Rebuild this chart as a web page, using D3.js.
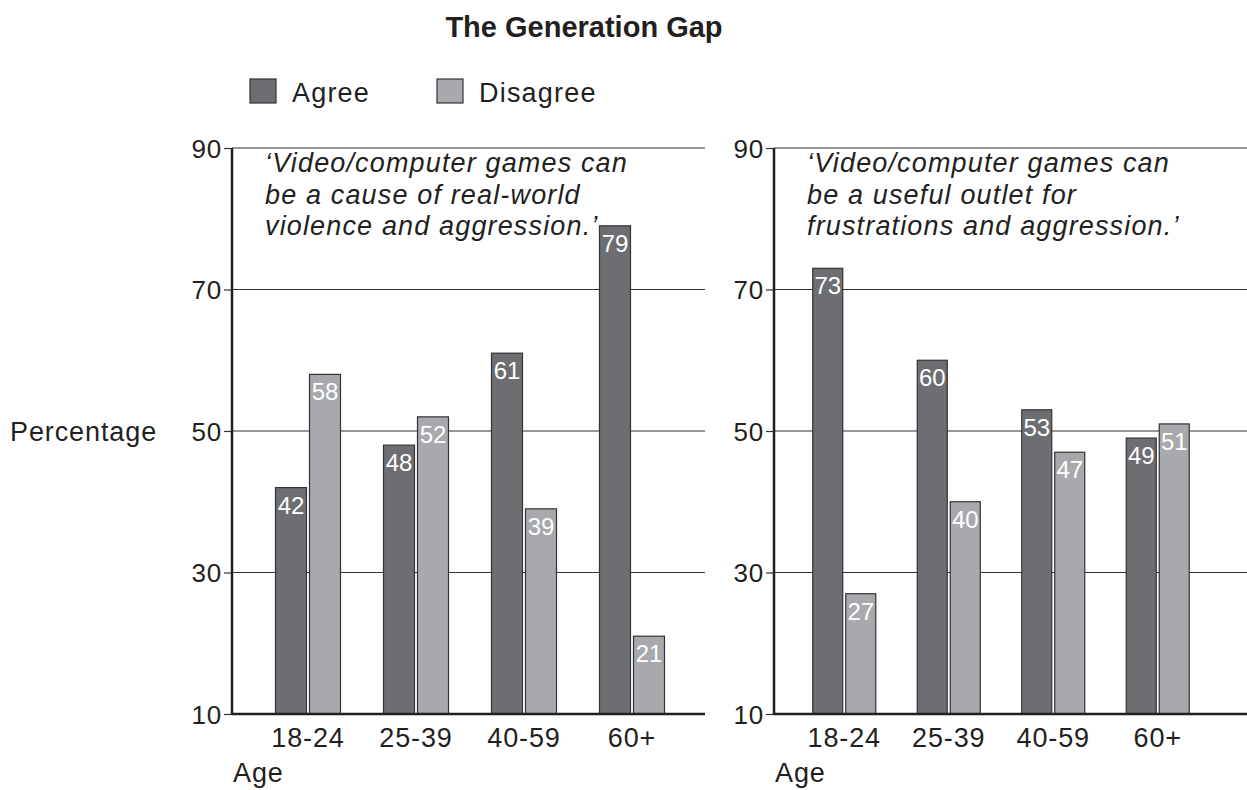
<!DOCTYPE html>
<html><head><meta charset="utf-8">
<script src="https://cdn.jsdelivr.net/npm/d3@7"></script>
<style>body{margin:0;background:#fff;} svg{display:block;font-family:"Liberation Sans",Arial,sans-serif;}</style>
</head><body>
<svg id="c" width="1247" height="790"></svg>
<script>
const categories = ["18-24","25-39","40-59","60+"];
const seriesNames = ["Agree","Disagree"];
const leftAgree = [42,48,61,79];
const leftDisagree = [58,52,39,21];
const rightAgree = [73,60,53,49];
const rightDisagree = [27,40,47,51];
const yTicks = [10,30,50,70,90];
const leftQuote = ["‘Video/computer games can","be a cause of real-world","violence and aggression.’"];
const rightQuote = ["‘Video/computer games can","be a useful outlet for","frustrations and aggression.’"];

const colors = {Agree:"#6d6e71", Disagree:"#a7a9ac"};
const ink = "#231f20";
const svg = d3.select("#c");
const y = d3.scaleLinear().domain([10,90]).range([714,148]);

svg.append("text").attr("x",584).attr("y",37).attr("text-anchor","middle")
  .attr("font-weight","bold").attr("font-size",29).attr("fill",ink).text("The Generation Gap");

// legend
const leg = [{n:"Agree",x:250},{n:"Disagree",x:437}];
leg.forEach(l=>{
  svg.append("rect").attr("x",l.x).attr("y",79).attr("width",26).attr("height",24)
    .attr("fill",colors[l.n]).attr("stroke","#333").attr("stroke-width",1.2);
  svg.append("text").attr("x",l.x+42).attr("y",102).attr("font-size",27).attr("letter-spacing","1.2px").attr("fill",ink).text(l.n);
});

svg.append("text").attr("x",10).attr("y",441).attr("font-size",27).attr("letter-spacing","0.9px").attr("fill",ink).text("Percentage");

function panel(axisX, gridEnd, groupStart, groupEnd, barW, agree, disagree, quote){
  const g = svg.append("g");
  const x0 = d3.scaleBand().domain(categories).range([groupStart, groupEnd]).paddingInner(0).paddingOuter(0);
  // gridlines
  g.selectAll(".grid").data(yTicks.slice(1)).enter().append("line")
    .attr("x1",axisX).attr("x2",gridEnd).attr("y1",d=>y(d)).attr("y2",d=>y(d))
    .attr("stroke","#333").attr("stroke-width",1.2);
  // y axis
  const ax = d3.axisLeft(y).tickValues(yTicks).tickSize(8).tickPadding(2);
  const ag = g.append("g").attr("transform",`translate(${axisX},0)`).call(ax);
  ag.select(".domain").remove();
  ag.selectAll(".tick line").attr("stroke","#333").attr("stroke-width",1.2);
  ag.selectAll(".tick text").attr("font-size",26).attr("letter-spacing","0.8px").attr("fill",ink)
    .attr("font-family","Liberation Sans, Arial, sans-serif").attr("dy","0.36em");
  // bars
  const data = categories.map((c,i)=>({c, vals:[{s:"Agree",v:agree[i]},{s:"Disagree",v:disagree[i]}]}));
  const grp = g.selectAll(".grp").data(data).enter().append("g").attr("transform",d=>`translate(${x0(d.c)},0)`);
  const bx = s => x0.bandwidth()/2 + (s==="Agree" ? -barW-1.5 : 1.5);
  grp.selectAll("rect").data(d=>d.vals).enter().append("rect")
    .attr("x",d=>bx(d.s)).attr("width",barW).attr("y",d=>y(d.v)).attr("height",d=>y(10)-y(d.v))
    .attr("fill",d=>colors[d.s]).attr("stroke","#333").attr("stroke-width",1.2);
  grp.selectAll(".val").data(d=>d.vals).enter().append("text")
    .attr("x",d=>bx(d.s)+barW/2).attr("y",d=>y(d.v)+26).attr("text-anchor","middle")
    .attr("font-size",24).attr("fill","#fff").text(d=>d.v);
  // axes lines
  g.append("line").attr("x1",axisX).attr("x2",axisX).attr("y1",y(90)).attr("y2",y(10)+1).attr("stroke",ink).attr("stroke-width",2.5);
  g.append("line").attr("x1",axisX).attr("x2",gridEnd).attr("y1",y(10)).attr("y2",y(10)).attr("stroke",ink).attr("stroke-width",2.5);
  // x labels
  const xa = d3.axisBottom(x0).tickSize(0).tickPadding(0);
  const xg = g.append("g").attr("transform",`translate(0,${y(10)})`).call(xa);
  xg.select(".domain").remove();
  xg.selectAll(".tick text").attr("font-size",27).attr("letter-spacing","0.9px").attr("fill",ink)
    .attr("y",33).attr("dy",0).attr("font-family","Liberation Sans, Arial, sans-serif");
  g.append("text").attr("x",axisX+1).attr("y",782).attr("font-size",27).attr("letter-spacing","0.9px").attr("fill",ink).text("Age");
  // quote
  g.selectAll(".q").data(quote).enter().append("text")
    .attr("x",axisX+33).attr("y",(d,i)=>172+i*31.5).attr("font-size",27).attr("letter-spacing","1.15px").attr("font-style","italic")
    .attr("fill",ink).text(d=>d);
}

panel(232, 705, 254, 686, 31, leftAgree, leftDisagree, leftQuote);
panel(774, 1247, 792, 1210, 30, rightAgree, rightDisagree, rightQuote);
</script>
</body></html>
